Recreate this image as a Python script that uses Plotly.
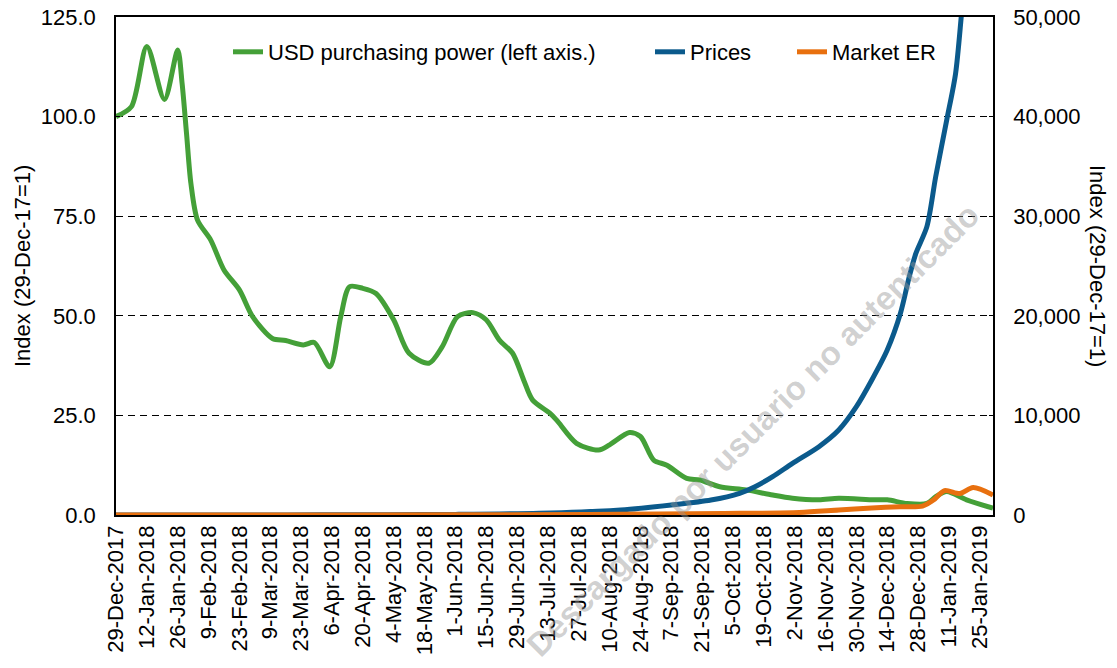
import plotly.graph_objects as go

# ---------------- data ----------------
usd_dates = ["2017-12-29", "2018-01-05", "2018-01-12", "2018-01-20", "2018-01-26", "2018-01-28",
             "2018-01-30", "2018-02-01", "2018-02-04", "2018-02-10", "2018-02-16", "2018-02-23",
             "2018-03-01", "2018-03-10", "2018-03-16", "2018-03-24", "2018-03-29", "2018-04-05",
             "2018-04-10", "2018-04-14", "2018-04-20", "2018-04-26", "2018-05-04", "2018-05-11",
             "2018-05-20", "2018-05-26", "2018-06-02", "2018-06-09", "2018-06-15", "2018-06-21",
             "2018-06-27", "2018-07-02", "2018-07-06", "2018-07-14", "2018-07-17", "2018-07-26",
             "2018-08-05", "2018-08-10", "2018-08-19", "2018-08-24", "2018-08-30", "2018-09-05",
             "2018-09-14", "2018-09-20", "2018-09-29", "2018-10-11", "2018-10-23", "2018-11-01",
             "2018-11-13", "2018-11-22", "2018-12-08", "2018-12-14", "2018-12-23", "2019-01-01",
             "2019-01-05", "2019-01-10", "2019-01-19", "2019-01-31"]
usd_values = [100.0, 102.5, 117.6, 104.3, 116.7, 108.3,
              95.8, 83.2, 74.0, 69.0, 61.5, 56.5,
              49.8, 44.3, 43.8, 42.7, 43.3, 37.2,
              49.8, 57.3, 56.9, 55.6, 49.0, 40.6,
              38.1, 42.2, 49.8, 50.8, 49.0, 43.9,
              40.6, 33.9, 28.9, 25.5, 23.8, 18.0,
              16.3, 17.6, 20.7, 19.7, 13.8, 12.5,
              9.2, 8.8, 7.1, 6.3, 5.0, 4.2,
              3.8, 4.2, 3.8, 3.8, 2.9, 2.9,
              4.6, 5.9, 3.8, 1.7]

price_dates = ["2017-12-29", "2018-02-01", "2018-03-01", "2018-04-01", "2018-05-01", "2018-06-01",
               "2018-07-09", "2018-08-15", "2018-09-07", "2018-09-25", "2018-10-08", "2018-10-15",
               "2018-10-23", "2018-11-01", "2018-11-13", "2018-11-22", "2018-11-30", "2018-12-07",
               "2018-12-14", "2018-12-20", "2018-12-24", "2018-12-27", "2019-01-01", "2019-01-05",
               "2019-01-10", "2019-01-14", "2019-01-17", "2019-01-21", "2019-01-25", "2019-01-31"]
price_values = [1, 3, 8, 15, 30, 60,
                170, 500, 1000, 1500, 2180, 2840,
                3850, 5190, 6860, 8530, 10870, 13550,
                16560, 20250, 23930, 26270, 28950, 33970,
                39660, 44300, 51000, 60000, 72000, 90000]

er_dates = ["2017-12-29", "2018-03-01", "2018-06-01", "2018-08-01", "2018-09-01", "2018-10-01",
            "2018-11-04", "2018-11-22", "2018-12-07", "2018-12-20", "2018-12-30", "2019-01-04",
            "2019-01-09", "2019-01-16", "2019-01-22", "2019-01-31"]
er_values = [1, 5, 20, 60, 100, 150,
             250, 500, 700, 830, 900, 1500,
             2450, 2150, 2750, 2000]

series_names = ["USD purchasing power (left axis.)", "Prices", "Market ER"]
left_ticks = [0, 25, 50, 75, 100, 125]
right_ticks = [0, 10000, 20000, 30000, 40000, 50000]
axis_title = "Index (29-Dec-17=1)"
watermark = "Descargado por usuario no autenticado"

# ---------------- figure ----------------
FONT = "Arial, Liberation Sans, sans-serif"
GREEN = "#44A038"
BLUE = "#0B5A8C"
ORANGE = "#E8700F"

fig = go.Figure()
fig.add_trace(go.Scatter(x=usd_dates, y=usd_values, name=series_names[0], mode="lines",
                         line=dict(color=GREEN, width=5, shape="spline", smoothing=0.8),
                         yaxis="y", legend="legend", showlegend=True))
fig.add_trace(go.Scatter(x=price_dates, y=price_values, name=series_names[1], mode="lines",
                         line=dict(color=BLUE, width=5, shape="spline", smoothing=0.8),
                         yaxis="y2", legend="legend2", showlegend=True))
fig.add_trace(go.Scatter(x=er_dates, y=er_values, name=series_names[2], mode="lines",
                         line=dict(color=ORANGE, width=5, shape="spline", smoothing=0.8),
                         yaxis="y2", legend="legend3", showlegend=True))

# page body has an 8px margin: the figure sits at (8, 8) in the window
OFF = 8
PL, PR, PT, PB = 116, 993, 17, 515          # plot area in window pixels
W, H = 1117 - OFF, 668 - OFF
pw, ph = PR - PL, PB - PT
L, T = PL - OFF, PT - OFF
R, B = W - L - pw, H - T - ph

def px2x(px):
    return (px - PL) / pw

def px2y(py):
    return (PB - py) / ph

leg_common = dict(orientation="h", xanchor="left", yanchor="middle", bgcolor="rgba(0,0,0,0)",
                  font=dict(family=FONT, size=22, color="black"), borderwidth=0)

fig.update_layout(
    width=W, height=H, showlegend=True,
    margin=dict(l=L, r=R, t=T, b=B, autoexpand=False),
    paper_bgcolor="white", plot_bgcolor="white",
    font=dict(family=FONT, size=22, color="black"),
    xaxis=dict(type="date", range=["2017-12-29", "2019-01-31"],
               tick0="2017-12-29", dtick=14 * 86400000, tickformat="%-d-%b-%Y",
               tickangle=-90, showgrid=False, showline=True, linecolor="black", linewidth=1.5,
               mirror=True, ticks="", tickfont=dict(family=FONT, size=22, color="black"),
               zeroline=False, ticklabeloverflow="allow"),
    yaxis=dict(range=[0, 125], tickvals=left_ticks, tickformat=".1f",
               showgrid=True, gridcolor="black", gridwidth=1.3, griddash="7px,5px",
               showline=True, linecolor="black", linewidth=1.5, ticks="inside", ticklen=4,
               tickcolor="black", zeroline=False, ticklabelstandoff=14, ticklabeloverflow="allow",
               tickfont=dict(family=FONT, size=22, color="black")),
    yaxis2=dict(range=[0, 50000], tickvals=right_ticks, tickformat=",.0f", overlaying="y",
                side="right", showgrid=False, showline=True, linecolor="black", linewidth=1.5,
                ticks="inside", ticklen=4, tickcolor="black", zeroline=False, ticklabelstandoff=14,
                ticklabeloverflow="allow",
                tickfont=dict(family=FONT, size=22, color="black")),
    legend=dict(x=px2x(228), y=px2y(52), **leg_common),
    legend2=dict(x=px2x(650), y=px2y(52), **leg_common),
    legend3=dict(x=px2x(792), y=px2y(52), **leg_common),
    annotations=[
        dict(text=axis_title, xref="paper", yref="paper", x=px2x(22), y=px2y(266),
             textangle=-90, showarrow=False, xanchor="center", yanchor="middle",
             font=dict(family=FONT, size=22, color="black")),
        dict(text=axis_title, xref="paper", yref="paper", x=px2x(1098), y=px2y(266),
             textangle=90, showarrow=False, xanchor="center", yanchor="middle",
             font=dict(family=FONT, size=22, color="black")),
        dict(text=watermark, xref="paper", yref="paper", x=px2x(752), y=px2y(430),
             textangle=-45, showarrow=False, xanchor="center", yanchor="middle",
             font=dict(family=FONT, size=33, color="rgba(150,150,150,0.45)", weight="bold")),
    ],
)

fig.write_html("out.html")
